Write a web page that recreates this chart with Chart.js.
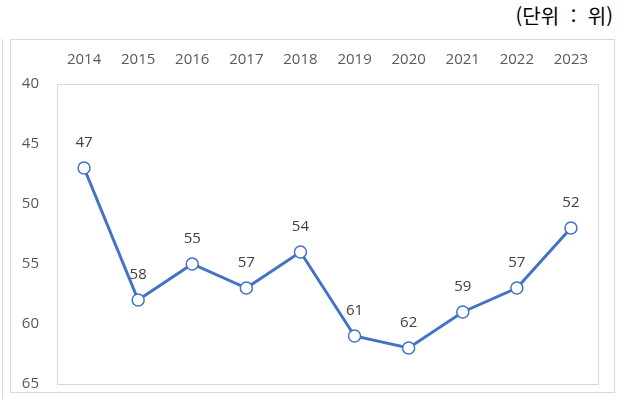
<!DOCTYPE html>
<html lang="ko">
<head>
<meta charset="utf-8">
<script src="https://cdn.jsdelivr.net/npm/chart.js@4"></script>
<style>
  html, body { margin: 0; padding: 0; background: #fff; }
  body { width: 620px; height: 399px; position: relative; overflow: hidden; }
  .unit {
    position: absolute; right: 7px; top: 1px; white-space: pre;
    font-family: "Noto Sans CJK KR", sans-serif; font-size: 20px; color: #000;
    word-spacing: 6px;
  }
  .side { position: absolute; left: 2px; top: 39px; bottom: 0; border-left: 1px solid #d9d9d9; }
  .frame {
    position: absolute; left: 10px; top: 39px; width: 605px; height: 354px;
    border: 1px solid #d9d9d9; box-sizing: border-box;
  }
  #rankChart { position: absolute; left: 0; top: 0; }
</style>
</head>
<body>
<div class="unit">(단위 : 위)</div>
<div class="side"></div>
<div class="frame"></div>
<canvas id="rankChart" width="620" height="399"></canvas>
<script>
// Yearly rank (lower number = better, so the y axis runs top-down)
const years = ['2014', '2015', '2016', '2017', '2018', '2019', '2020', '2021', '2022', '2023'];
const ranks = [47, 58, 55, 57, 54, 61, 62, 59, 57, 52];
const rankTicks = [40, 45, 50, 55, 60, 65];

const lineBlue = '#4472C4';
const tickFont = { family: '"Open Sans", sans-serif', size: 15 };

// light grey box round the plot area
const plotBorder = {
    id: 'plotBorder',
    beforeDatasetsDraw(chart) {
        const { ctx, chartArea: a } = chart;
        ctx.save();
        ctx.strokeStyle = '#d9d9d9';
        ctx.lineWidth = 1;
        ctx.strokeRect(Math.round(a.left) + 0.5, Math.round(a.top) + 0.5,
            Math.round(a.right - a.left), Math.round(a.bottom - a.top));
        ctx.restore();
    }
};

// value labels above each point
const valueLabels = {
    id: 'valueLabels',
    afterDatasetsDraw(chart) {
        const { ctx } = chart;
        const meta = chart.getDatasetMeta(0);
        ctx.save();
        ctx.font = '15px "Open Sans", sans-serif';
        ctx.fillStyle = '#404040';
        ctx.textAlign = 'center';
        ctx.textBaseline = 'middle';
        meta.data.forEach((pt, i) => {
            ctx.fillText(String(ranks[i]), pt.x, pt.y - 25);
        });
        ctx.restore();
    }
};

new Chart(document.getElementById('rankChart'), {
    type: 'line',
    data: {
        labels: years,
        datasets: [{
            data: ranks,
            borderColor: lineBlue,
            borderWidth: 3,
            pointRadius: 6,
            pointBorderWidth: 1.5,
            pointBackgroundColor: '#fff',
            pointBorderColor: lineBlue,
            tension: 0,
            fill: false
        }]
    },
    options: {
        responsive: false,
        animation: false,
        layout: { padding: { left: 10, top: 39, right: 22, bottom: 15 } },
        plugins: {
            legend: { display: false },
            tooltip: { enabled: false }
        },
        scales: {
            x: {
                position: 'top',
                offset: true,
                grid: { display: false, drawTicks: false },
                border: { display: false },
                ticks: { color: '#595959', font: tickFont, padding: 15, maxRotation: 0 },
                afterFit(scale) { scale.height = 45; }
            },
            y: {
                reverse: true,
                min: 40,
                max: 65,
                afterBuildTicks(scale) { scale.ticks = rankTicks.map(v => ({ value: v })); },
                grid: { display: false, drawTicks: false },
                border: { display: false },
                ticks: { color: '#595959', font: tickFont, padding: 18 },
                afterFit(scale) {
                    scale.width = 47;
                    // keep the end labels from pushing the plot area in
                    scale.paddingTop = 0;
                    scale.paddingBottom = 0;
                }
            }
        }
    },
    plugins: [plotBorder, valueLabels]
});
</script>
</body>
</html>
